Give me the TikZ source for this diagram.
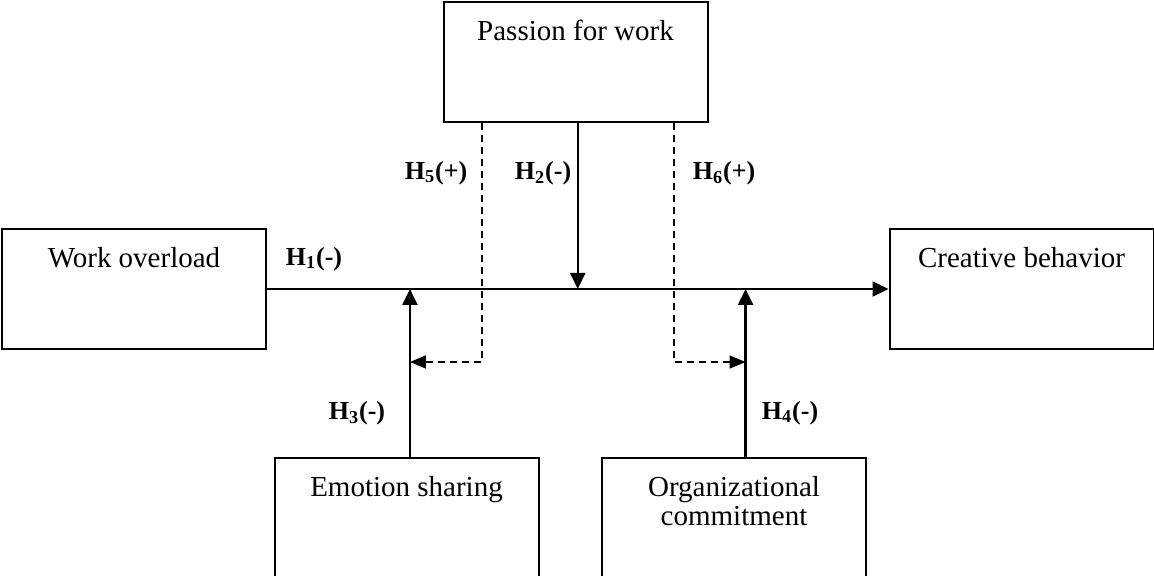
\documentclass[tikz,border=0pt]{standalone}
\usepackage{fontspec}
\setmainfont{Liberation Serif}
\usetikzlibrary{arrows.meta,calc}
\tikzset{
  box/.style={draw, line width=1pt, minimum width=132pt, minimum height=60pt, inner sep=0pt,
    label={[boxtext]north:#1}},
  boxtext/.style={anchor=north, inner sep=0pt, yshift=-9.5pt, align=center,
    font=\fontsize{14.5}{14.5}\selectfont},
  hyp/.style={font=\fontsize{13}{13}\selectfont\bfseries},
  effect/.style={line width=1.1pt, -{Triangle[length=8pt,width=7.5pt]}},
  moderate/.style={dash pattern=on 3.5pt off 2.5pt, line width=0.8pt, -{Triangle[length=8pt,width=6.5pt]}}
}
\begin{document}
\begin{tikzpicture}[x=0.5pt, y=-0.5pt]
    \clip (0,0) rectangle (1154,576);

    % Variables
    \node[box=Work overload] (wo) at (134,289) {};
    \node[box=Creative behavior] (cb) at (1021.5,289) {};
    \node[box=Passion for work] (pw) at (575.5,62) {};
    \node[box=Emotion sharing] (es) at (406.5,518) {};
    \node[box=Organizational\\commitment] (oc) at (734,518) {};

    % Main effect
    \draw[effect] (wo) -- (cb);
    \path (wo.east) -- (cb.west) coordinate[pos=0.23] (m3) coordinate[pos=0.5] (m2) coordinate[pos=0.77] (m4);

    % Moderators
    \draw[effect] (pw.south -| m2) -- (m2);
    \draw[effect] (es.north -| m3) -- (m3);
    \draw[effect] (oc.north -| m4) -- (m4);

    % Moderated moderation (dashed)
    \coordinate (k3) at ($(m3)+(0,73)$);
    \coordinate (k4) at ($(m4)+(0,73)$);
    \draw[moderate] ($(pw.south -| m2)+(-96,0)$) |- (k3);
    \draw[moderate] ($(pw.south -| m2)+(96,0)$) |- (k4);

    % Hypotheses
    \node[hyp] (h1) at (314,259) {H\textsubscript{1}(-)};
    \node[hyp] (h2) at (543,173) {H\textsubscript{2}(-)};
    \node[hyp] (h3) at (357,413) {H\textsubscript{3}(-)};
    \node[hyp] (h4) at (790,413) {H\textsubscript{4}(-)};
    \node[hyp] (h5) at (436,173) {H\textsubscript{5}(+)};
    \node[hyp] (h6) at (724,173) {H\textsubscript{6}(+)};
\end{tikzpicture}
\end{document}
